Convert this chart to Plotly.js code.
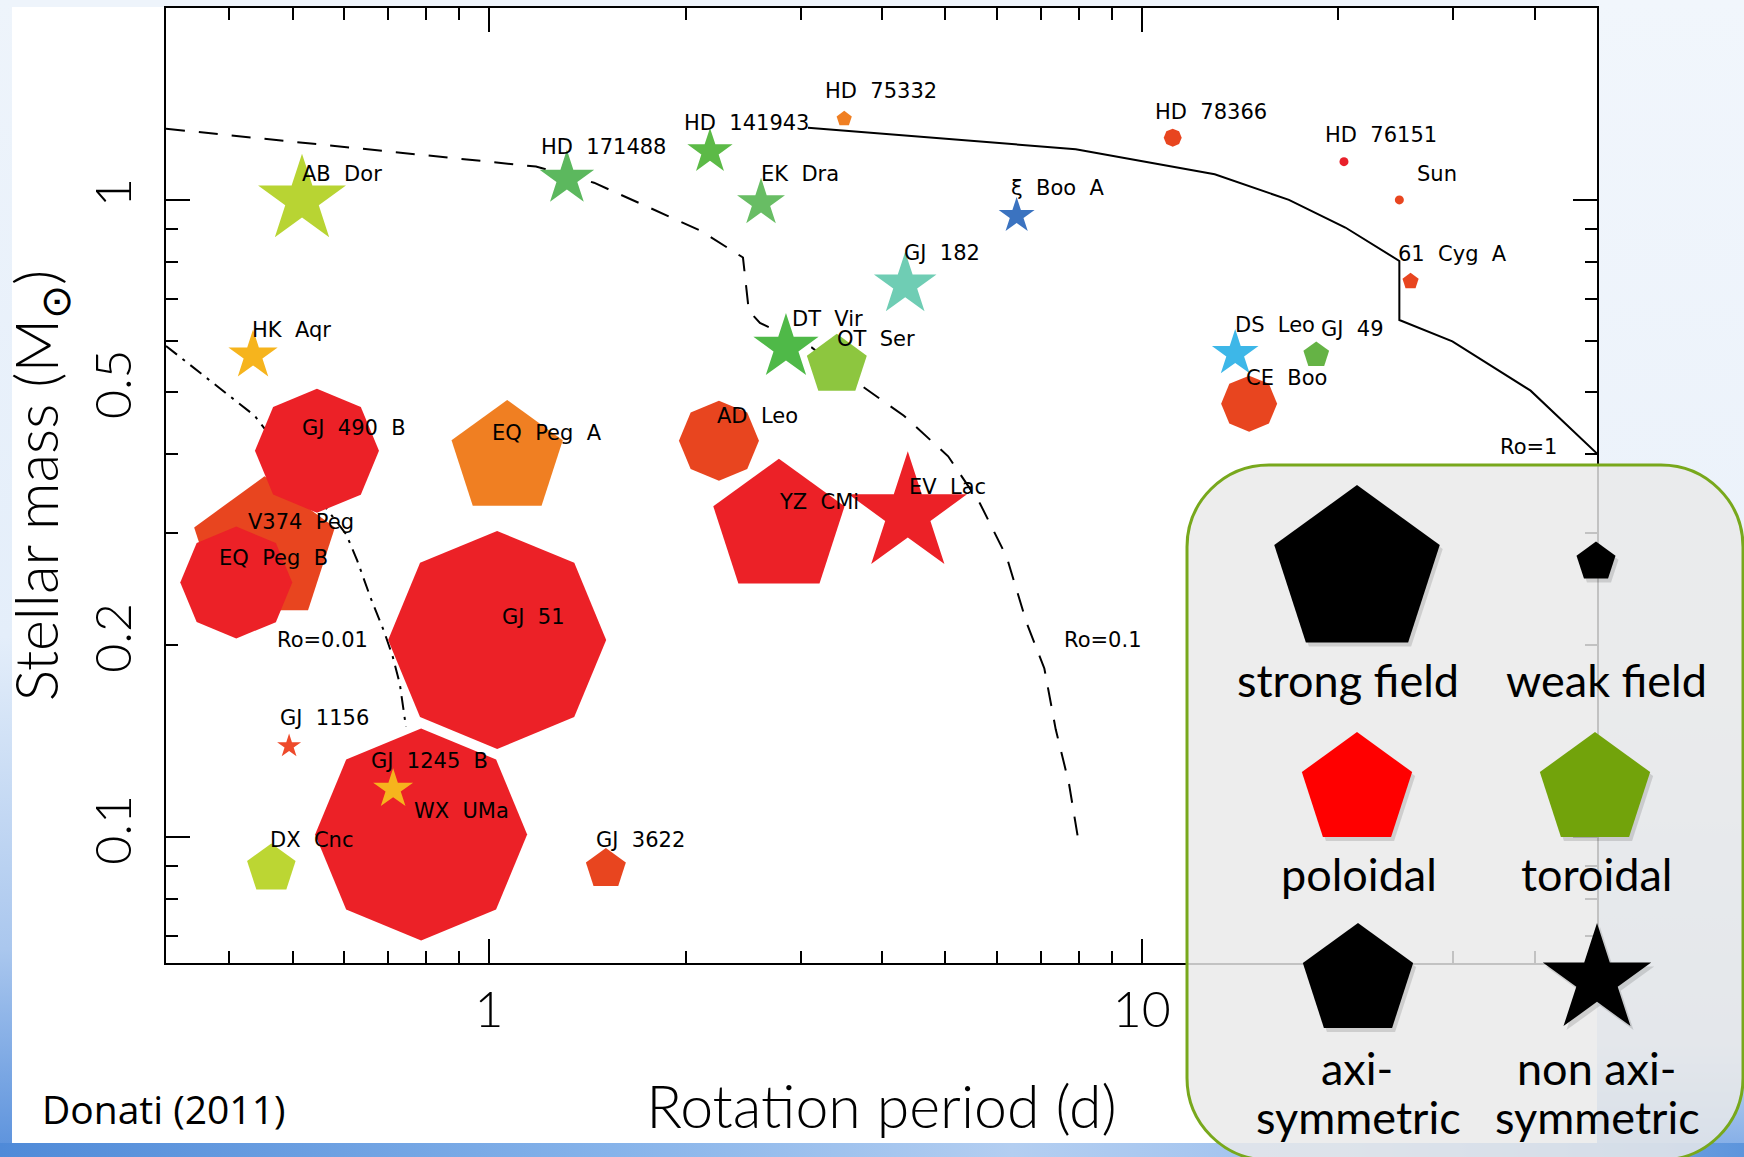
<!DOCTYPE html>
<html>
<head>
<meta charset="utf-8">
<script src="https://cdn.plot.ly/plotly-3.0.1.min.js"></script>
<style>
  html, body { margin: 0; padding: 0; width: 1744px; height: 1157px; overflow: hidden; background: #eef4fb; }
  .band-left { position: absolute; left: 0; top: 0; width: 12px; height: 1157px;
    background: linear-gradient(180deg, #eef4fb 0%, #e4eefa 55%, #aac7ee 82%, #5a91dc 100%); }
  .band-right { position: absolute; left: 1597px; top: 0; width: 147px; height: 1157px;
    background: linear-gradient(180deg, #f1f6fc 0%, #eaf1fa 60%, #c9dbf2 90%, #7eaae6 100%); }
  .band-bottom { position: absolute; left: 0; top: 1143px; width: 1744px; height: 14px;
    background: linear-gradient(90deg, #4f8ad8 0%, #86b3ea 35%, #b3cef1 58%, #9dc0ee 78%, #5d95dc 100%); }
  .sheet { position: absolute; left: 12px; top: 7px; width: 1585px; height: 1136px; background: #ffffff; }
  #chart { position: absolute; left: 0; top: 0; width: 1744px; height: 1157px; }
</style>
</head>
<body>
<div class="band-left"></div>
<div class="band-right"></div>
<div class="band-bottom"></div>
<div class="sheet"></div>
<div id="chart"></div>
<script>
// ---- Stars: rotation period (d) and stellar mass (solar masses) ----
const starNames = ['V374 Peg', 'GJ 490 B', 'EQ Peg B', 'GJ 51', 'GJ 1245 B', 'EQ Peg A', 'AD Leo', 'YZ CMi',
  'EV Lac', 'AB Dor', 'HD 171488', 'HD 141943', 'EK Dra', 'HD 75332', 'DT Vir', 'OT Ser', 'GJ 182',
  'ξ Boo A', 'HD 78366', 'HD 76151', 'Sun', '61 Cyg A', 'DS Leo', 'GJ 49', 'CE Boo', 'HK Aqr',
  'WX UMa', 'GJ 1156', 'DX Cnc', 'GJ 3622'];
const rotationPeriod = [0.453, 0.545, 0.410, 1.029, 0.787, 1.066, 2.25, 2.78,
  4.38, 0.517, 1.316, 2.18, 2.61, 3.50, 2.85, 3.41, 4.34,
  6.43, 11.15, 20.4, 24.8, 25.8, 13.9, 18.5, 14.6, 0.435,
  0.713, 0.494, 0.464, 1.51];
const stellarMass = [0.282, 0.404, 0.251, 0.204, 0.101, 0.393, 0.419, 0.306,
  0.322, 1.00, 1.08, 1.19, 0.989, 1.34, 0.587, 0.550, 0.736,
  0.944, 1.252, 1.148, 1.00, 0.745, 0.574, 0.571, 0.479, 0.570,
  0.119, 0.139, 0.0892, 0.0892];

// ---- Rossby number contours (period, mass) ----
const ro1Period = [3.08, 7.92, 12.93, 16.8, 20.5, 24.8, 24.8, 29.9, 39.4, 49.8];
const ro1Mass = [1.298, 1.201, 1.097, 1.0, 0.905, 0.802, 0.648, 0.600, 0.502, 0.40];
const ro01Period = [0.32, 1.18, 1.448, 2.112, 2.449, 2.50, 2.60, 3.12, 3.66, 4.32, 5.05, 5.65, 6.21, 6.66, 7.09, 7.38, 7.73, 7.98];
const ro01Mass = [1.293, 1.128, 1.064, 0.894, 0.812, 0.670, 0.641, 0.587, 0.517, 0.4585, 0.396, 0.334, 0.275, 0.217, 0.184, 0.1477, 0.1217, 0.1];
const ro001Period = [0.32, 0.4375, 0.604, 0.628, 0.658, 0.691, 0.712, 0.730, 0.746];
const ro001Mass = [0.590, 0.4585, 0.299, 0.272, 0.238, 0.210, 0.192, 0.174, 0.149];

// ---- Axis ticks ----
const xMajorTicks = [1, 10];
const xMajorText = ['1', '10'];
const xMinorTicks = [0.4, 0.5, 0.6, 0.7, 0.8, 0.9, 2, 3, 4, 5, 6, 7, 8, 9, 20, 30, 40];
const yLabelTicks = [0.1, 0.2, 0.5, 1];
const yLabelText = ['0.1', '0.2', '0.5', '1'];
const yLongTicks = [0.1, 1];
const yMinorTicks = [0.07, 0.08, 0.09, 0.3, 0.4, 0.6, 0.7, 0.8, 0.9];

// ---- Symbol appearance per star (same order as starNames) ----
// [symbol, size(px), colour, angle, label dx, label dy]
const look = [
  ['pentagon', 148, '#e8451f', 0, -17, 28],
  ['octagon', 124, '#ec2127', 22.5, -15, 23],
  ['octagon', 112, '#ec2127', 22.5, -17, 25],
  ['octagon', 218, '#ec2127', 22.5, 5, 23],
  ['octagon', 212, '#ec2127', 22.5, -50, 74],
  ['pentagon', 117, '#f07f22', 0, -15, 25],
  ['octagon', 80, '#e8451f', 22.5, -2, 25],
  ['pentagon', 138, '#ec2127', 0, 0, 26],
  ['star', 89, '#ec2127', 0, 1, 27],
  ['star', 66, '#b8d433', 0, 0, 26],
  ['star', 41, '#5cb85e', 0, -26, 32],
  ['star', 34, '#5cba47', 0, -26, 29],
  ['star', 36, '#68bd64', 0, 0, 29],
  ['pentagon', 16, '#f07f22', 0, -19, 28],
  ['star', 49, '#4fb948', 0, 6, 28],
  ['pentagon', 63, '#8dc63f', 0, 0, 26],
  ['star', 47, '#6fcdb4', 0, -1, 32],
  ['star', 27, '#3b73c0', 0, -6, 28],
  ['octagon', 18, '#e8451f', 22.5, -18, 26],
  ['circle', 9, '#e8202a', 0, -19, 27],
  ['circle', 9, '#e8451f', 0, 18, 26],
  ['pentagon', 17, '#e8451f', 0, -13, 27],
  ['star', 35, '#3db7e8', 0, 0, 29],
  ['pentagon', 27, '#65b345', 0, 5, 26],
  ['octagon', 56, '#e8451f', 22.5, -3, 26],
  ['star', 37, '#f6b41d', 0, -1, 25],
  ['star', 30, '#f6b41d', 0, 21, -22],
  ['star', 18, '#ee4a2b', 0, -9, 28],
  ['pentagon', 51, '#bcd633', 0, -1, 29],
  ['pentagon', 42, '#e8451f', 0, -10, 29]
];

// Rossby labels placed in data units
const roLabels = [
  { text: 'Ro=1', x: 35.3, y: 0.409 },
  { text: 'Ro=0.1', x: 7.58, y: 0.204 },
  { text: 'Ro=0.01', x: 0.472, y: 0.204 }
];

// ---- Figure geometry (pixels) ----
const FIG_W = 1744, FIG_H = 1157;
const M = { l: 166, r: 147, t: 8, b: 194 };
const PW = FIG_W - M.l - M.r, PH = FIG_H - M.t - M.b;
const px = X => (X - M.l) / PW;
const py = Y => (M.t + PH - Y) / PH;
const pt = (X, Y) => px(X).toFixed(5) + ',' + py(Y).toFixed(5);

function polyPath(cx, cy, verts) {
  return 'M' + verts.map(v => pt(cx + v[0], cy + v[1])).join('L') + 'Z';
}
function pentagonVerts(r) {
  return [0, 1, 2, 3, 4].map(k => {
    const a = (-90 + 72 * k) * Math.PI / 180;
    return [r * Math.cos(a), r * Math.sin(a)];
  });
}
function starVerts(r) {
  const ri = r * 0.382;
  return Array.from({ length: 10 }, (_, k) => {
    const a = (-90 + 36 * k) * Math.PI / 180;
    const rr = k % 2 ? ri : r;
    return [rr * Math.cos(a), rr * Math.sin(a)];
  });
}
function roundRect(x0, y0, x1, y1, r) {
  const k = 0.5523 * r;
  return 'M' + pt(x0 + r, y0) + 'L' + pt(x1 - r, y0) +
    'C' + pt(x1 - r + k, y0) + ' ' + pt(x1, y0 + r - k) + ' ' + pt(x1, y0 + r) +
    'L' + pt(x1, y1 - r) +
    'C' + pt(x1, y1 - r + k) + ' ' + pt(x1 - r + k, y1) + ' ' + pt(x1 - r, y1) +
    'L' + pt(x0 + r, y1) +
    'C' + pt(x0 + r - k, y1) + ' ' + pt(x0, y1 - r + k) + ' ' + pt(x0, y1 - r) +
    'L' + pt(x0, y0 + r) +
    'C' + pt(x0, y0 + r - k) + ' ' + pt(x0 + r - k, y0) + ' ' + pt(x0 + r, y0) + 'Z';
}

const lineStyle = { color: '#000', width: 2 };
const traces = [
  { x: ro001Period, y: ro001Mass, mode: 'lines', line: Object.assign({ dash: '14px,7px,3px,7px' }, lineStyle), hoverinfo: 'skip' },
  { x: ro01Period, y: ro01Mass, mode: 'lines', line: Object.assign({ dash: '19px,14px' }, lineStyle), hoverinfo: 'skip' },
  {
    x: rotationPeriod, y: stellarMass, mode: 'markers', text: starNames, hoverinfo: 'text',
    marker: {
      symbol: look.map(s => s[0]), size: look.map(s => s[1]), color: look.map(s => s[2]),
      angle: look.map(s => s[3]), line: { width: 0 }, opacity: 1
    }
  },
  { x: ro1Period, y: ro1Mass, yaxis: 'y2', mode: 'lines', line: lineStyle, hoverinfo: 'skip' }
];

const labelFont = { family: 'DejaVu Sans', size: 21, color: '#000' };
const annotations = starNames.map((name, i) => ({
  x: Math.log10(rotationPeriod[i]), y: Math.log10(stellarMass[i]), xref: 'x', yref: 'y',
  text: name.replace(/ /g, '\u00a0\u00a0'), showarrow: false, xanchor: 'left', yanchor: 'middle',
  xshift: look[i][4], yshift: look[i][5], font: labelFont, borderpad: 0, borderwidth: 0
}));
roLabels.forEach(r => annotations.push({
  x: Math.log10(r.x), y: Math.log10(r.y), xref: 'x', yref: 'y', text: r.text, showarrow: false,
  xanchor: 'left', yanchor: 'middle', font: labelFont, borderpad: 0
}));
annotations.push({
  x: px(40), y: py(1108), xref: 'paper', yref: 'paper', text: 'Donati (2011)', showarrow: false,
  xanchor: 'left', yanchor: 'middle', font: { family: 'Open Sans', size: 39, color: '#000' }
});

// ---- Key panel ----
const keyFont = { family: 'Lato', size: 45, color: '#000' };
const keyText = [
  ['strong field', 1348, 680], ['weak field', 1606, 680],
  ['poloidal', 1359, 874], ['toroidal', 1597, 874],
  ['axi-', 1357, 1068], ['symmetric', 1358, 1117],
  ['non axi-', 1597, 1068], ['symmetric', 1597, 1117]
];
keyText.forEach(k => annotations.push({
  x: px(k[1]), y: py(k[2]), xref: 'paper', yref: 'paper', text: k[0], showarrow: false,
  xanchor: 'center', yanchor: 'middle', font: keyFont
}));

const shadow = 'rgba(0,0,0,0.13)';
const keySymbols = [
  [1357, 572, pentagonVerts(87), '#000'],
  [1596, 562, pentagonVerts(20.5), '#000'],
  [1357, 790, pentagonVerts(58), '#ff0000'],
  [1595, 790, pentagonVerts(58), '#72a30b'],
  [1358, 981, pentagonVerts(58), '#000'],
  [1597, 980, starVerts(57), '#000']
];
const shapes = [{
  type: 'path', xref: 'paper', yref: 'paper', layer: 'above',
  path: roundRect(1187, 465, 1743, 1160, 82),
  fillcolor: 'rgba(233,233,233,0.83)', line: { color: '#78a81c', width: 3 }
}];
keySymbols.forEach(s => {
  shapes.push({ type: 'path', xref: 'paper', yref: 'paper', layer: 'above',
    path: polyPath(s[0] + 3, s[1] + 4, s[2]), fillcolor: shadow, line: { width: 0 } });
  shapes.push({ type: 'path', xref: 'paper', yref: 'paper', layer: 'above',
    path: polyPath(s[0], s[1], s[2]), fillcolor: s[3], line: { width: 0 } });
});

const tickFont = { family: 'Lato', size: 50, color: '#000', weight: 300 };
const titleFont = { family: 'Lato', size: 59, color: '#000', weight: 300 };
const yRange = [Math.log10(0.0635), Math.log10(2.0)];

const layout = {
  width: FIG_W, height: FIG_H,
  margin: M,
  paper_bgcolor: 'rgba(0,0,0,0)',
  plot_bgcolor: '#ffffff',
  showlegend: false,
  xaxis: {
    type: 'log', range: [Math.log10(0.32), Math.log10(49.8)],
    tickmode: 'array', tickvals: xMajorTicks, ticktext: xMajorText,
    ticks: 'inside', ticklen: 24, tickwidth: 2, tickcolor: '#000',
    minor: { tickmode: 'array', tickvals: xMinorTicks, ticks: 'inside', ticklen: 12, tickwidth: 2, tickcolor: '#000', showgrid: false },
    showline: true, linecolor: '#000', linewidth: 2, mirror: 'ticks',
    showgrid: false, zeroline: false, automargin: false, fixedrange: true,
    tickfont: tickFont, ticklabelstandoff: 2,
    title: { text: 'Rotation period (d)', font: titleFont, standoff: 50 }
  },
  yaxis: {
    type: 'log', range: yRange,
    tickmode: 'array', tickvals: yLabelTicks, ticktext: yLabelText, tickangle: -90,
    ticks: 'inside', ticklen: 12, tickwidth: 2, tickcolor: '#000',
    minor: { tickmode: 'array', tickvals: yMinorTicks, ticks: 'inside', ticklen: 12, tickwidth: 2, tickcolor: '#000', showgrid: false },
    showline: true, linecolor: '#000', linewidth: 2, mirror: 'ticks',
    showgrid: false, zeroline: false, automargin: false, fixedrange: true,
    tickfont: tickFont, ticklabelstandoff: 13,
    title: { text: 'Stellar mass (M<sub>⊙</sub>)', font: titleFont, standoff: 14 }
  },
  yaxis2: {
    type: 'log', range: yRange, overlaying: 'y', side: 'left',
    tickmode: 'array', tickvals: yLongTicks, showticklabels: false,
    ticks: 'inside', ticklen: 24, tickwidth: 2, tickcolor: '#000',
    showline: false, mirror: 'ticks', showgrid: false, zeroline: false, fixedrange: true
  },
  annotations: annotations,
  shapes: shapes
};

Plotly.newPlot('chart', traces, layout, { displayModeBar: false, staticPlot: true });
</script>
</body>
</html>
